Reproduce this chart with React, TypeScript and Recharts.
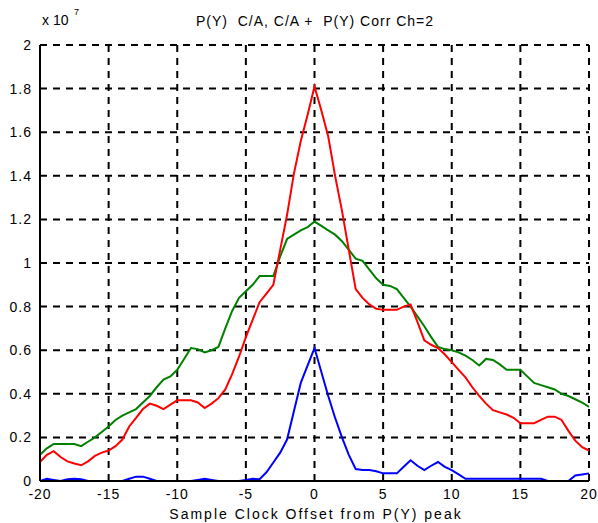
import React from "react";
import { LineChart, Line, XAxis, YAxis, CartesianGrid } from "recharts";

// sample offsets, 0.5 step
const offsets = Array.from({ length: 81 }, (_, i) => -20 + i * 0.5);

const combined = [
  0.12, 0.15, 0.17, 0.17, 0.17, 0.17, 0.16, 0.18, 0.2, 0.225, 0.25, 0.28, 0.3, 0.315, 0.33, 0.36, 0.39,
  0.43, 0.465, 0.48, 0.51, 0.56, 0.61, 0.605, 0.59, 0.6, 0.615, 0.7, 0.78, 0.84, 0.87, 0.9, 0.94, 0.94,
  0.94, 1.03, 1.11, 1.13, 1.15, 1.165, 1.19, 1.17, 1.15, 1.13, 1.1, 1.06, 1.02, 1.01, 0.97, 0.93, 0.9,
  0.895, 0.88, 0.84, 0.8, 0.755, 0.71, 0.66, 0.615, 0.605, 0.6, 0.59, 0.575, 0.555, 0.53, 0.56, 0.555,
  0.535, 0.51, 0.51, 0.51, 0.48, 0.45, 0.44, 0.43, 0.42, 0.4, 0.39, 0.375, 0.36, 0.34,
];

const caOnly = [
  0.087, 0.12, 0.137, 0.11, 0.09, 0.08, 0.072, 0.09, 0.115, 0.13, 0.14, 0.16, 0.19, 0.25, 0.29, 0.33,
  0.355, 0.345, 0.33, 0.35, 0.37, 0.37, 0.37, 0.36, 0.335, 0.355, 0.38, 0.42, 0.49, 0.57, 0.66, 0.74,
  0.82, 0.86, 0.9, 1.06, 1.22, 1.41, 1.56, 1.68, 1.81, 1.7, 1.58, 1.4, 1.24, 1.06, 0.88, 0.84, 0.81,
  0.79, 0.785, 0.785, 0.785, 0.8, 0.81, 0.73, 0.645, 0.625, 0.61, 0.58, 0.545, 0.51, 0.475, 0.43, 0.39,
  0.355, 0.325, 0.315, 0.305, 0.29, 0.265, 0.265, 0.265, 0.28, 0.295, 0.295, 0.28, 0.23, 0.185, 0.155,
  0.14,
];

const pyOnly = [
  0, 0.01, 0.005, 0, 0.008, 0.01, 0.008, 0, 0, 0, 0, 0, 0, 0.01, 0.02, 0.02, 0.01, 0, 0, 0, 0, 0, 0,
  0.005, 0.01, 0.005, 0, 0, 0, 0, 0.005, 0.01, 0.008, 0.04, 0.085, 0.13, 0.19, 0.32, 0.45, 0.53, 0.61,
  0.5, 0.39, 0.29, 0.2, 0.12, 0.055, 0.05, 0.05, 0.045, 0.035, 0.035, 0.035, 0.065, 0.095, 0.07, 0.05,
  0.07, 0.087, 0.065, 0.05, 0.03, 0.01, 0.01, 0.01, 0.01, 0.01, 0.01, 0.01, 0.01, 0.01, 0.01, 0.01,
  0.01, 0, 0, 0, 0, 0.025, 0.03, 0.035,
];

const xTicks = [-20, -15, -10, -5, 0, 5, 10, 15, 20];
const yTicks = [0, 0.2, 0.4, 0.6, 0.8, 1, 1.2, 1.4, 1.6, 1.8, 2];

const data = offsets.map((x, i) => ({ x, green: combined[i], red: caOnly[i], blue: pyOnly[i] }));

const font = "'Liberation Sans', Arial, sans-serif";

export default function App() {
  return (
    <div style={{ position: "absolute", left: 0, top: 0, width: 598, height: 523, background: "#fff", fontFamily: font }}>
      <LineChart width={598} height={523} data={data} margin={{ top: 45, right: 9, left: 0, bottom: 0 }}>
        <CartesianGrid stroke="#000" strokeWidth={2} strokeDasharray="7 6" />
        <XAxis
          dataKey="x"
          type="number"
          domain={[-20, 20]}
          ticks={xTicks}
          height={42}
          axisLine={{ stroke: "#000", strokeWidth: 2 }}
          tickLine={false}
          tick={{ fill: "#000", fontSize: 14, fontFamily: font, letterSpacing: 1 }}
          tickFormatter={(v) => String(v)}
        />
        <XAxis xAxisId="top" dataKey="x" type="number" domain={[-20, 20]} orientation="top" height={0} tick={false} tickLine={false} axisLine={{ stroke: "#000", strokeWidth: 2 }} />
        <YAxis
          type="number"
          domain={[0, 2]}
          ticks={yTicks}
          width={40}
          axisLine={{ stroke: "#000", strokeWidth: 2 }}
          tickLine={false}
          tick={{ fill: "#000", fontSize: 14, fontFamily: font, letterSpacing: 1 }}
          tickFormatter={(v) => String(v)}
        />
        <YAxis yAxisId="right" orientation="right" domain={[0, 2]} width={0} tick={false} tickLine={false} axisLine={{ stroke: "#000", strokeWidth: 2 }} />
        <Line dataKey="green" stroke="#008000" strokeWidth={2} dot={false} isAnimationActive={false} />
        <Line dataKey="red" stroke="#ff0000" strokeWidth={2} dot={false} isAnimationActive={false} />
        <Line dataKey="blue" stroke="#0000ff" strokeWidth={2} dot={false} isAnimationActive={false} />
        <text x={315} y={26} textAnchor="middle" fontSize={14} fontFamily={font} fill="#000" letterSpacing={1} style={{ whiteSpace: "pre" }}>
          {"P(Y)  C/A, C/A +  P(Y) Corr Ch=2"}
        </text>
        <text x={42} y={25} fontSize={14} fontFamily={font} fill="#000">
          x 10
        </text>
        <text x={74} y={15} fontSize={9} fontFamily={font} fill="#000">
          7
        </text>
        <text x={316} y={519} textAnchor="middle" fontSize={14} fontFamily={font} fill="#000" letterSpacing={2}>
          Sample Clock Offset from P(Y) peak
        </text>
      </LineChart>
    </div>
  );
}
